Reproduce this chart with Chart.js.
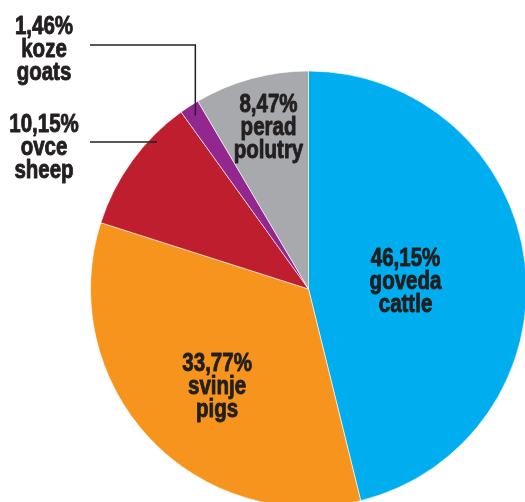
<!DOCTYPE html>
<html>
<head>
<meta charset="utf-8">
<script src="https://cdn.jsdelivr.net/npm/chart.js@4.4.1/dist/chart.umd.min.js"></script>
<style>
  html, body { margin: 0; padding: 0; background: #ffffff; overflow: hidden; }
  #wrap { position: relative; width: 525px; height: 502px; }
</style>
</head>
<body>
<div id="wrap"><canvas id="c"></canvas></div>
<script>
// ---- data ----
const categoriesHr = ['goveda', 'svinje', 'ovce', 'koze', 'perad'];
const categoriesEn = ['cattle', 'pigs', 'sheep', 'goats', 'polutry'];
const percentLabels = ['46,15%', '33,77%', '10,15%', '1,46%', '8,47%'];
const shares = [46.15, 33.77, 10.15, 1.46, 8.47];
const sliceColors = ['#00AEEF', '#F7941E', '#BE1E2D', '#92278F', '#A7A9AC'];

// ---- label layout (not data) ----
// inside labels: [radius fraction, angle offset in degrees] relative to slice middle
const insideLayout = { 0: [0.445, 7], 1: [0.64, -6], 4: [0.73, 0.7] };
const TEXT_COLOR = '#231F20';
const FONT = 'bold 25px "Liberation Sans", Arial, sans-serif';
const CONDENSE = 0.82;
const LINE_H = 23;

function drawBlock(ctx, x, y, lines) {
  ctx.save();
  ctx.font = FONT;
  ctx.fillStyle = TEXT_COLOR;
  ctx.strokeStyle = TEXT_COLOR;
  ctx.lineWidth = 0.9;
  ctx.lineJoin = 'round';
  ctx.textAlign = 'center';
  ctx.textBaseline = 'alphabetic';
  lines.forEach((t, i) => {
    ctx.save();
    ctx.translate(x, y + (i - 1) * LINE_H);
    ctx.scale(CONDENSE, 1);
    ctx.fillText(t, 0, 0);
    ctx.strokeText(t, 0, 0);
    ctx.restore();
  });
  ctx.restore();
}

const labelPlugin = {
  id: 'sliceLabels',
  afterDatasetsDraw(chart) {
    const ctx = chart.ctx;
    const arcs = chart.getDatasetMeta(0).data;
    arcs.forEach((arc, i) => {
      const lines = [percentLabels[i], categoriesHr[i], categoriesEn[i]];
      if (insideLayout[i]) {
        const [frac, dDeg] = insideLayout[i];
        const mid = (arc.startAngle + arc.endAngle) / 2 + dDeg * Math.PI / 180;
        const r = arc.outerRadius * frac;
        drawBlock(ctx, arc.x + r * Math.cos(mid), arc.y + r * Math.sin(mid), lines);
      }
    });
    // outside labels with leader lines
    const goats = arcs[3];
    ctx.save();
    ctx.strokeStyle = TEXT_COLOR;
    ctx.lineWidth = 1.5;
    const gMid = (goats.startAngle + goats.endAngle) / 2;
    const gx = goats.x + goats.outerRadius * 0.95 * Math.cos(gMid);
    const gy = goats.y + goats.outerRadius * 0.95 * Math.sin(gMid);
    ctx.beginPath();
    ctx.moveTo(90, 45);
    ctx.lineTo(gx, 45);
    ctx.lineTo(gx, gy);
    ctx.stroke();
    ctx.beginPath();
    ctx.moveTo(90, 142);
    ctx.lineTo(157, 142);
    ctx.stroke();
    ctx.restore();
    drawBlock(ctx, 44, 57, [percentLabels[3], categoriesHr[3], categoriesEn[3]]);
    drawBlock(ctx, 44, 155, [percentLabels[2], categoriesHr[2], categoriesEn[2]]);
  }
};

new Chart(document.getElementById('c'), {
  type: 'pie',
  data: {
    labels: categoriesEn,
    datasets: [{
      data: shares,
      backgroundColor: sliceColors,
      borderColor: '#ffffff',
      borderWidth: 0.6
    }]
  },
  options: {
    responsive: true,
    maintainAspectRatio: false,
    animation: false,
    radius: 218,
    layout: { padding: { left: 92, top: 76, right: 0, bottom: 0 } },
    plugins: {
      legend: { display: false },
      tooltip: { enabled: false }
    }
  },
  plugins: [labelPlugin]
});
</script>
</body>
</html>
